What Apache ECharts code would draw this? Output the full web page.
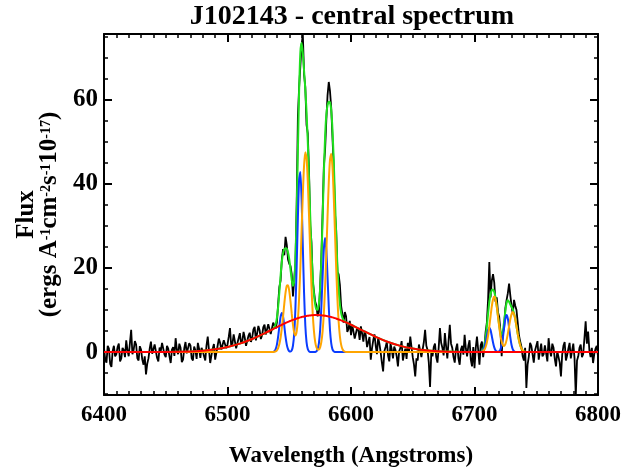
<!DOCTYPE html>
<html>
<head>
<meta charset="utf-8">
<script src="https://cdn.jsdelivr.net/npm/echarts@6/dist/echarts.min.js"></script>
<style>html,body{margin:0;padding:0;background:#fff}#c{width:634px;height:470px}</style>
</head>
<body>
<div id="c"></div>
<script>
// ---------- data ----------
const titleText = 'J102143 - central spectrum';
const yTicks = [0, 20, 40, 60];
const yMinorTicks = [-10, -5, 5, 10, 15, 25, 30, 35, 45, 50, 55, 65, 70, 75];

// observed spectrum: first wavelength, sampling step (Angstrom), flux values
const specStart = 6400;
const specStep = 1;
const specFlux = [
  1.0, -1.8, -2.5, 1.5, 0.8, -2.8, -3.5, 0.2, 1.5, -1.0, -0.5, 1.2, 2.0, -2.2, -1.5, 1.0, 0.5, -1.2, 2.8, 0.4,
  -1.0, 2.2, 5.3, -0.5, 0.5, 2.6, 1.8, -1.5, -2.0, 1.4, 0.6, -1.8, -3.0, -1.0, -5.3, -2.8, -1.5, 0.8, 2.5, -0.4,
  -0.8, 1.8, 1.5, -1.4, -2.2, 1.1, 0.3, 2.2, 2.0, -0.6, -1.2, 1.5, 0.8, -1.0, -2.6, 0.6, 1.2, -0.9, 3.3, 0.5,
  -0.5, 2.0, 1.0, -2.4, -1.8, 0.9, 2.4, -0.3, -0.6, 2.1, 1.6, -1.5, -2.0, 1.3, 0.4, -1.6, 2.2, 0.8, -1.4, 1.0,
  0.2, -1.0, -2.0, 1.6, 3.7, 0.5, -2.6, -0.8, 0.8, 1.9, -1.8, -0.2, 1.5, 3.2, 2.2, 0.6, 0.4, 2.8, 3.0, 0.9,
  1.8, 3.6, 5.7, 1.5, 2.0, 4.2, 3.8, 0.9, 1.2, 3.3, 4.5, 2.0, 2.6, 4.8, 3.4, 1.5, 1.8, 3.9, 4.6, 2.4,
  3.5, 5.4, 6.0, 2.8, 3.0, 6.2, 5.2, 3.1, 4.0, 5.9, 6.5, 4.2, 3.8, 6.6, 5.5, 4.3, 4.6, 7.0, 7.3, 5.6,
  7.0, 11.5, 15.5, 17.0, 22.0, 24.5, 23.0, 27.4, 25.5, 22.0, 21.0, 20.5, 18.5, 13.2, 13.5, 21.0, 35.0, 56.0, 63.0, 68.0,
  73.0, 75.5, 66.0, 63.0, 54.0, 52.0, 43.0, 30.0, 26.0, 17.0, 14.5, 12.0, 11.0, 8.5, 9.5, 15.5, 22.5, 33.0, 44.0, 48.0,
  55.0, 61.0, 64.2, 62.0, 58.0, 51.0, 44.0, 33.0, 29.0, 19.0, 18.5, 16.0, 11.0, 9.0, 7.0, 9.5, 8.5, 4.8, 5.5, 7.4,
  4.0, 6.5, 6.9, 3.2, 3.5, 5.8, 5.2, 2.9, 6.1, 4.4, 2.5, 5.0, 4.0, 1.2, 1.0, 3.6, -1.8, 0.9, 2.8, 4.2,
  1.5, -0.5, 3.5, 2.0, 0.0, -2.5, -4.6, 0.2, 1.2, 2.4, -0.8, -2.2, 2.0, 0.6, -1.5, 1.3, 0.5, -1.0, -3.4, 0.2,
  1.0, 2.6, -2.0, -0.4, 0.8, -1.6, 2.2, 0.3, 3.7, 1.2, -1.2, -3.0, -5.8, -1.5, -2.0, 1.8, 1.5, -1.2, -0.8, 2.4,
  5.3, 1.5, 0.5, -2.5, -8.3, -0.2, -1.0, 1.2, 2.0, -1.2, -2.5, 1.0, 5.7, 2.2, 1.0, -0.8, 4.5, 1.4, -1.5, 2.6,
  6.5, 2.0, 1.0, -1.2, -2.5, 0.8, 2.0, -1.5, -3.0, 0.6, 1.5, -0.6, 4.1, 0.8, -1.0, 1.5, 2.8, -1.8, -3.4, 1.2,
  -3.8, 1.0, 3.7, 0.5, -3.0, 1.6, 2.5, -1.2, 1.0, 4.8, 7.0, 12.5, 21.4, 13.0, 17.0, 18.5, 16.5, 12.0, 13.0, 9.5,
  8.4, 5.0, -1.0, 4.5, 6.0, 10.5, 12.4, 14.0, 16.3, 13.5, 11.0, 9.0, 12.4, 11.0, 10.0, 7.0, 4.0, 2.5, 1.3, -1.0,
  -2.0, 1.0, -8.5, -3.0, -1.0, 2.2, 1.5, -0.5, -2.5, 0.4, 0.8, 2.6, -1.8, 0.2, 2.0, -1.0, -0.5, 1.6, 1.2, -2.2,
  3.3, 0.4, -1.0, 2.0, 1.0, -1.6, -3.4, 0.2, 0.5, -2.5, -5.8, -0.6, 1.5, 2.4, -2.0, -0.8, 0.8, 2.2, -1.5, 0.3,
  2.0, -1.5, -10.5, -2.0, -1.0, 1.0, 1.8, -1.2, -0.5, 3.2, 7.3, 2.0, 4.9, 0.5, -1.2, 1.0, -2.6, -0.4, 0.8, 1.5,
  -1.0
];

// model curves sampled on a common wavelength grid
const modelWave = [
  6400, 6450, 6470, 6480, 6490, 6500, 6510, 6520, 6530,
  6536, 6537, 6538, 6539, 6540, 6541, 6542, 6543, 6544, 6545,
  6546, 6547, 6548, 6549, 6550, 6551, 6552, 6553, 6554, 6555,
  6556, 6557, 6558, 6559, 6560, 6561, 6562, 6563, 6564, 6565,
  6566, 6567, 6568, 6569, 6570, 6571, 6572, 6573, 6574, 6575,
  6576, 6577, 6578, 6579, 6580, 6581, 6582, 6583, 6584, 6585,
  6586, 6587, 6588, 6589, 6590, 6591, 6592, 6593, 6594, 6595, 6596,
  6600, 6610, 6620, 6630, 6640, 6650, 6660, 6670, 6690,
  6704, 6705, 6706, 6707, 6708, 6709, 6710, 6711, 6712, 6713,
  6714, 6715, 6716, 6717, 6718, 6719, 6720, 6721, 6722, 6723,
  6724, 6725, 6726, 6727, 6728, 6729, 6730, 6731, 6732, 6733,
  6734, 6735, 6736, 6737, 6738, 6739, 6740, 6741, 6742, 6743,
  6760, 6800
];
// broad component (red)
const broadFlux = [
  0, 0.03, 0.16, 0.34, 0.66, 1.19, 2.0, 3.1, 4.45,
  5.34, 5.49, 5.63, 5.78, 5.93, 6.07, 6.22, 6.36, 6.50, 6.64,
  6.78, 6.92, 7.05, 7.17, 7.30, 7.42, 7.54, 7.66, 7.76, 7.87,
  7.97, 8.07, 8.16, 8.25, 8.32, 8.40, 8.47, 8.53, 8.59, 8.63,
  8.68, 8.72, 8.75, 8.77, 8.79, 8.80, 8.80, 8.80, 8.79, 8.77,
  8.75, 8.72, 8.68, 8.63, 8.59, 8.53, 8.47, 8.40, 8.32, 8.25,
  8.16, 8.07, 7.97, 7.87, 7.76, 7.66, 7.54, 7.42, 7.30, 7.17, 7.05,
  6.5, 5.04, 3.62, 2.40, 1.48, 0.84, 0.44, 0.22, 0.04,
  0, 0, 0, 0, 0, 0, 0, 0, 0, 0,
  0, 0, 0, 0, 0, 0, 0, 0, 0, 0,
  0, 0, 0, 0, 0, 0, 0, 0, 0, 0,
  0, 0, 0, 0, 0, 0, 0, 0, 0, 0,
  0, 0
];
// rest-frame narrow lines (orange)
const mainFlux = [
  0, 0, 0, 0, 0, 0, 0, 0, 0,
  0, 0.02, 0.07, 0.18, 0.43, 0.95, 1.90, 3.46, 5.70, 8.50,
  11.50, 14.11, 15.73, 15.87, 14.54, 12.11, 9.20, 6.52, 4.62, 3.95,
  4.89, 7.79, 12.92, 20.21, 28.92, 37.60, 44.36, 47.50, 46.12, 40.65,
  32.46, 23.51, 15.47, 9.19, 4.98, 2.44, 1.14, 0.60, 0.59, 1.13,
  2.44, 4.94, 9.11, 15.34, 23.32, 32.19, 40.31, 45.74, 47.11, 43.99,
  37.29, 28.65, 19.97, 12.60, 7.22, 3.76, 1.77, 0.76, 0.29, 0.10, 0.03,
  0, 0, 0, 0, 0, 0, 0, 0, 0,
  0, 0.04, 0.10, 0.25, 0.58, 1.20, 2.27, 3.89, 6.05, 8.50,
  10.86, 12.57, 13.2, 12.57, 10.86, 8.50, 6.08, 3.96, 2.45, 1.62,
  1.44, 1.88, 2.90, 4.39, 6.12, 7.82, 9.04, 9.5, 9.04, 7.82,
  6.12, 4.35, 2.80, 1.63, 0.86, 0.42, 0.18, 0.07, 0.03, 0,
  0, 0
];
// blueshifted narrow lines (blue)
const shiftedFlux = [
  0, 0, 0, 0, 0, 0, 0, 0, 0,
  0, 0.06, 0.22, 0.70, 1.78, 3.67, 6.15, 8.39, 9.3, 8.39,
  6.15, 3.67, 1.78, 0.70, 0.22, 0.15, 0.42, 1.51, 4.41, 10.5,
  20.35, 32.05, 41.08, 42.8, 36.29, 25.01, 14.04, 6.39, 2.37, 0.72,
  0.18, 0.03, 0, 0, 0, 0.04, 0.17, 0.65, 2.05, 5.18,
  10.70, 17.91, 24.44, 27.1, 24.44, 17.91, 10.70, 5.18, 2.05, 0.65,
  0.17, 0.04, 0, 0, 0, 0, 0, 0, 0, 0, 0,
  0, 0, 0, 0, 0, 0, 0, 0, 0,
  0, 0.04, 0.14, 0.44, 1.11, 2.29, 3.83, 5.23, 5.8, 5.23,
  3.83, 2.29, 1.11, 0.44, 0.14, 0.10, 0.21, 0.67, 1.68, 3.48,
  5.82, 7.94, 8.8, 7.94, 5.82, 3.48, 1.68, 0.67, 0.21, 0.06,
  0, 0, 0, 0, 0, 0, 0, 0, 0, 0,
  0, 0
];
// total model (green)
const totalFlux = [
  0, 0.03, 0.16, 0.34, 0.66, 1.19, 2.0, 3.1, 4.45,
  5.34, 5.57, 5.92, 6.66, 8.14, 10.69, 14.27, 18.21, 21.50, 23.53,
  24.43, 24.70, 24.56, 23.74, 22.06, 19.68, 17.16, 15.69, 16.79, 22.32,
  33.21, 47.91, 62.16, 71.26, 73.53, 71.01, 66.87, 62.42, 57.08, 50.00,
  41.32, 32.26, 24.22, 17.96, 13.77, 11.28, 10.11, 10.05, 11.43, 15.08,
  21.89, 31.57, 42.23, 51.07, 56.35, 58.63, 59.48, 59.32, 57.48, 52.89,
  45.62, 36.76, 27.94, 20.47, 14.98, 11.42, 9.31, 8.18, 7.59, 7.27, 7.08,
  6.5, 5.04, 3.62, 2.40, 1.48, 0.84, 0.44, 0.22, 0.04,
  0, 0.08, 0.24, 0.69, 1.69, 3.49, 6.10, 9.12, 11.85, 13.73,
  14.69, 14.86, 14.31, 13.01, 11.00, 8.60, 6.29, 4.63, 4.13, 5.10,
  7.26, 9.82, 11.70, 12.33, 11.94, 11.30, 10.72, 10.17, 9.25, 7.88,
  6.12, 4.35, 2.80, 1.63, 0.86, 0.42, 0.18, 0.07, 0.03, 0,
  0, 0
];

// ---------- build ----------
const specData = specFlux.map((f, i) => [specStart + i * specStep, f]);
const pair = arr => modelWave.map((w, i) => [w, arr[i]]);

const SERIF = '"Liberation Serif", "Times New Roman", serif';
const black = '#000';

function xAx(pos, showLabel) {
  return {
    type: 'value', position: pos, min: 6400, max: 6800, interval: 100,
    axisLine: { show: true, onZero: false, lineStyle: { color: black, width: 2 } },
    axisTick: { show: true, inside: true, length: 8, lineStyle: { color: black, width: 2 } },
    minorTick: { show: true, splitNumber: 10, length: 4, lineStyle: { color: black, width: 1.5 } },
    splitLine: { show: false },
    minorSplitLine: { show: false },
    axisLabel: showLabel ? {
      show: true, color: black, fontFamily: SERIF, fontWeight: 'bold', fontSize: 23, margin: 9,
      formatter: v => String(v)
    } : { show: false },
    name: showLabel ? 'Wavelength (Angstroms)' : '',
    nameLocation: 'middle', nameGap: 50,
    nameTextStyle: { color: black, fontFamily: SERIF, fontWeight: 'bold', fontSize: 23 }
  };
}
function yAx(pos, major, showLabel, withName) {
  const vals = major ? yTicks : yMinorTicks;
  const o = {
    type: 'value', position: pos, min: -10.2, max: 75.6,
    axisLine: { show: major, onZero: false, lineStyle: { color: black, width: 2 } },
    axisTick: { show: true, inside: true, length: major ? 8 : 4, customValues: vals,
                lineStyle: { color: black, width: major ? 2 : 1.5 } },
    splitLine: { show: false },
    axisLabel: showLabel ? {
      show: true, color: black, fontFamily: SERIF, fontWeight: 'bold', fontSize: 25, margin: 6,
      customValues: yTicks
    } : { show: false }
  };
  if (withName) {
    const b = { fontFamily: SERIF, fontWeight: 'bold', fontSize: 25, lineHeight: 23, color: black, verticalAlign: 'bottom' };
    const s = { fontFamily: SERIF, fontWeight: 'bold', fontSize: 14, lineHeight: 14, color: black, verticalAlign: 'top' };
    o.name = '{b|Flux}\n{b|(ergs A}{s|-1}{b|cm}{s|-2}{b|s}{s|-1}{b|10}{s|-17}{b|)}';
    o.nameLocation = 'middle';
    o.nameRotate = 90;
    o.nameGap = 42;
    o.nameTextStyle = { rich: { b: b, s: s } };
  }
  return o;
}

const chart = echarts.init(document.getElementById('c'), null, { renderer: 'canvas' });
chart.setOption({
  backgroundColor: '#fff',
  animation: false,
  grid: { left: 104, right: 36, top: 34, bottom: 75, containLabel: false, outerBoundsMode: 'none' },
  graphic: [{
    type: 'text', x: 352, y: 3,
    style: { text: titleText, font: 'bold 28px ' + SERIF, fill: black,
             align: 'center', textAlign: 'center', verticalAlign: 'top', textVerticalAlign: 'top' }
  }],
  xAxis: [xAx('bottom', true), xAx('top', false)],
  yAxis: [yAx('left', true, true, true), yAx('right', true, false, false),
          yAx('left', false, false, false), yAx('right', false, false, false)],
  series: [
    { type: 'line', name: 'data', data: specData, showSymbol: false, z: 2,
      lineStyle: { color: black, width: 1.8 } },
    { type: 'line', name: 'total', data: pair(totalFlux), showSymbol: false, z: 3, smooth: 0.2,
      lineStyle: { color: '#1fe01f', width: 2 } },
    { type: 'line', name: 'shifted', data: pair(shiftedFlux), showSymbol: false, z: 4, smooth: 0.2,
      lineStyle: { color: '#0a3cff', width: 2 } },
    { type: 'line', name: 'main', data: pair(mainFlux), showSymbol: false, z: 5, smooth: 0.2,
      lineStyle: { color: '#ffa500', width: 2 } },
    { type: 'line', name: 'broad', data: pair(broadFlux), showSymbol: false, z: 6, smooth: 0.3,
      lineStyle: { color: '#ff0000', width: 2 } }
  ]
});
</script>
</body>
</html>
